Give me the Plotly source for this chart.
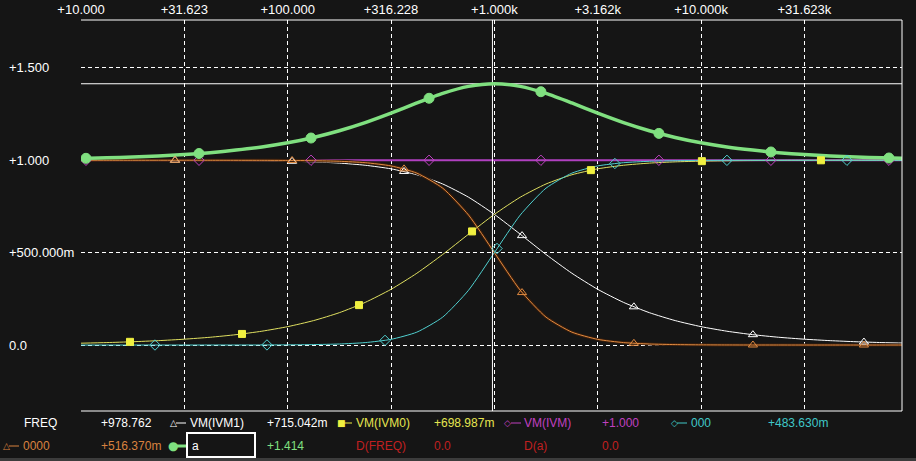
import math
import plotly.graph_objects as go

# ---------------- data ----------------
freq = [10, 13.34, 17.78, 23.71, 31.62, 42.17, 56.23, 74.99, 100, 133.4, 177.8, 237.1,
        316.2, 421.7, 562.3, 749.9, 1000, 1334, 1778, 2371, 3162, 4217, 5623, 7499,
        10000, 13335, 17783, 23714, 31623, 42170, 56234, 74989, 100000]

vm_ivm1 = [1.000, 1.000, 0.9998, 0.9997, 0.9995, 0.9991, 0.9984, 0.9972, 0.9950, 0.9913,
           0.9846, 0.9730, 0.9535, 0.9214, 0.8716, 0.8000, 0.7071, 0.5999, 0.4901, 0.3886,
           0.3015, 0.2307, 0.1751, 0.1322, 0.0995, 0.0748, 0.0561, 0.0421, 0.0316, 0.0237,
           0.0178, 0.0133, 0.0100]
vm_ivm0 = [0.0100, 0.0133, 0.0178, 0.0237, 0.0316, 0.0421, 0.0561, 0.0748, 0.0995, 0.1322,
           0.1751, 0.2307, 0.3015, 0.3886, 0.4901, 0.5999, 0.7071, 0.8000, 0.8716, 0.9214,
           0.9535, 0.9730, 0.9846, 0.9913, 0.9950, 0.9972, 0.9984, 0.9991, 0.9995, 0.9997,
           0.9998, 1.000, 1.000]
vm_ivm = [1.0] * len(freq)
s_0000 = [1.000, 1.000, 1.000, 1.000, 1.000, 0.9999, 0.9998, 0.9996, 0.9990, 0.9976,
          0.9944, 0.9868, 0.9693, 0.9302, 0.8490, 0.7034, 0.5000, 0.2966, 0.1510, 0.0698,
          0.0307, 0.0132, 0.0056, 0.0024, 0.0010, 0.0004, 0.0002, 0.0001, 0.0, 0.0,
          0.0, 0.0, 0.0]
s_000 = [0.0, 0.0, 0.0, 0.0, 0.0, 0.0001, 0.0002, 0.0004, 0.0010, 0.0024,
         0.0056, 0.0132, 0.0307, 0.0698, 0.1510, 0.2966, 0.5000, 0.7034, 0.8490, 0.9302,
         0.9693, 0.9868, 0.9944, 0.9976, 0.9990, 0.9996, 0.9998, 0.9999, 1.000, 1.000,
         1.000, 1.000, 1.000]
s_a = [1.010, 1.013, 1.018, 1.023, 1.031, 1.041, 1.055, 1.072, 1.0945, 1.1235,
       1.1597, 1.2037, 1.2550, 1.3100, 1.3617, 1.3999, 1.4142, 1.3999, 1.3617, 1.3100,
       1.2550, 1.2037, 1.1597, 1.1235, 1.0945, 1.072, 1.055, 1.041, 1.031, 1.023,
       1.018, 1.013, 1.010]

# marker samples
mk_a_f = [10.57, 37.24, 129.7, 483.1, 1679, 6252, 21780, 81100]
mk_a_v = [1.0105, 1.0365, 1.1203, 1.3354, 1.3709, 1.1454, 1.0448, 1.0123]
mk_ivm_f = mk_a_f
mk_ivm_v = [1.0] * len(mk_ivm_f)
mk_tri_f = [28.5, 105.0, 365.6, 1361, 4732, 17820, 61380]
mk_ivm1_v = [0.9996, 0.9945, 0.9392, 0.5920, 0.2068, 0.0560, 0.0163]
mk_0000_v = [1.000, 0.9988, 0.9534, 0.2838, 0.0094, 0.0002, 0.0]
mk_ivm0_f = [17.26, 60.12, 221.3, 779.8, 2931, 10090, 38020]
mk_ivm0_v = [0.0173, 0.0600, 0.2161, 0.6149, 0.9465, 0.9951, 0.9997]
mk_000_f = [22.8, 79.4, 295.8, 1030, 3828, 13340, 50800]
mk_000_v = [0.0, 0.0005, 0.0252, 0.5225, 0.9825, 0.9996, 1.000]

x_ticks = [10, 31.623, 100, 316.228, 1000, 3162.28, 10000, 31623]
x_tick_labels = ["+10.000", "+31.623", "+100.000", "+316.228", "+1.000k", "+3.162k",
                 "+10.000k", "+31.623k"]
y_ticks = [0.0, 0.5, 1.0, 1.5]
y_tick_labels = ["0.0", "+500.000m", "+1.000", "+1.500"]

cursor_freq = 978.762
cursor_a = 1.414
x_range = [10, 93800]
y_range = [-0.357, 1.759]

# legend readouts: (text, x_px, y_px, colour)
WHITE, YEL, MAG, CYN, ORG, GRN, RED = ("#ffffff", "#e6e650", "#c040c0", "#40c8c8",
                                       "#d9823f", "#80e080", "#c02020")
legend_texts = [
    ("FREQ", 22, 423, WHITE), ("+978.762", 99, 423, WHITE),
    ("VM(IVM1)", 188, 423, WHITE), ("+715.042m", 265, 423, WHITE),
    ("VM(IVM0)", 354, 423, YEL), ("+698.987m", 432, 423, YEL),
    ("VM(IVM)", 522, 423, MAG), ("+1.000", 600, 423, MAG),
    ("000", 689, 423, CYN), ("+483.630m", 766, 423, CYN),
    ("0000", 21, 446, ORG), ("+516.370m", 99, 446, ORG),
    ("a", 190, 446, WHITE), ("+1.414", 265, 446, GRN),
    ("D(FREQ)", 354, 446, RED), ("0.0", 432, 446, RED),
    ("D(a)", 522, 446, RED), ("0.0", 600, 446, RED),
]
# icon: (symbol, symbol centre x, line x0, line x1, y, colour, symbol size, line width)
legend_icons = [("△", 173, 176, 186, 423, WHITE, 9, 1),
                ("■", 341, 344, 352, 423, "#f0f040", 9, 1),
                ("◇", 508, 511, 521, 423, MAG, 9, 1),
                ("◇", 674, 677, 687, 423, CYN, 9, 1),
                ("△", 6, 9, 19, 446, ORG, 9, 1),
                ("●", 173, 176, 187, 446, GRN, 12, 3)]

# ---------------- figure ----------------
W, H = 916, 461
L, R, T, B = 81, 14, 20, 50
PW, PH = W - L - R, H - T - B


def px(x, y):
    return (x - L) / PW, (H - B - y) / PH


BG = "#151515"
FONT = "Liberation Sans, Arial"
fig = go.Figure()


def add_line(x, y, color, width):
    fig.add_trace(go.Scatter(x=x, y=y, mode="lines", hoverinfo="skip", showlegend=False,
                             line=dict(color=color, width=width, shape="spline", smoothing=0.6)))


def add_markers(x, y, color, symbol, size, lw=1):
    fig.add_trace(go.Scatter(x=x, y=y, mode="markers", hoverinfo="skip", showlegend=False,
                             marker=dict(color=color, symbol=symbol, size=size,
                                         line=dict(color=color, width=lw))))


add_line(freq, vm_ivm, "#b040c0", 2)
add_line(freq, vm_ivm1, "#ffffff", 1)
add_line(freq, s_0000, "#3a1e0c", 3)
add_line(freq, s_0000, "#e08a40", 1)
add_line(freq, vm_ivm0, "#e0e060", 1)
add_line(freq, s_000, "#50d0d0", 1)

# cursors
fig.add_trace(go.Scatter(x=[cursor_freq, cursor_freq], y=[y_range[0] - 1, y_range[1] + 1],
                         mode="lines", line=dict(color="#ffffff", width=1),
                         hoverinfo="skip", showlegend=False))
fig.add_trace(go.Scatter(x=[1, 1e6], y=[cursor_a, cursor_a],
                         mode="lines", line=dict(color="#ffffff", width=1),
                         hoverinfo="skip", showlegend=False))

add_line(freq, s_a, GRN, 3.5)

add_markers(mk_ivm_f, mk_ivm_v, "#c040c0", "diamond-open", 8)
add_markers(mk_tri_f, mk_ivm1_v, "#ffffff", "triangle-up-open", 8)
add_markers(mk_tri_f, mk_0000_v, "#e08a40", "triangle-up-open", 8)
add_markers(mk_ivm0_f, mk_ivm0_v, "#f0f040", "square", 7)
add_markers(mk_000_f, mk_000_v, "#50d0d0", "diamond-open", 8)
add_markers(mk_a_f, mk_a_v, GRN, "circle", 10)

annotations = []
shapes = []
for txt, x, y, c in legend_texts:
    ax, ay = px(x, y)
    annotations.append(dict(text=txt, x=ax, y=ay, xref="paper", yref="paper",
                            xanchor="left", yanchor="middle", showarrow=False,
                            font=dict(color=c, size=12, family=FONT)))
for sym, sx, lx0, lx1, y, c, fs, lw in legend_icons:
    ax, ay = px(sx, y)
    annotations.append(dict(text=sym, x=ax, y=ay, xref="paper", yref="paper",
                            xanchor="center", yanchor="middle", showarrow=False,
                            font=dict(color=c, size=fs, family="DejaVu Sans")))
    a0, b0 = px(lx0, y)
    a1, _ = px(lx1, y)
    shapes.append(dict(type="line", xref="paper", yref="paper", x0=a0, y0=b0, x1=a1, y1=b0,
                       line=dict(color=c, width=lw)))
for v, t in zip(y_ticks, y_tick_labels):
    annotations.append(dict(text=t, x=px(7, 0)[0], y=v, xref="paper", yref="y",
                            xanchor="left", yanchor="middle", showarrow=False,
                            font=dict(color="#ffffff", size=13, family=FONT)))

# plot frame (top, right, bottom solid)
for (x0, y0, x1, y1) in [(0, 1, 1, 1), (1, 0, 1, 1), (0, 0, 1, 0)]:
    shapes.append(dict(type="line", xref="paper", yref="paper", x0=x0, y0=y0, x1=x1, y1=y1,
                       line=dict(color="#ffffff", width=1)))
# box around "a"
bx0, by0 = px(187, 433)
bx1, by1 = px(255, 457)
shapes.append(dict(type="rect", xref="paper", yref="paper", x0=bx0, y0=by0, x1=bx1, y1=by1,
                   line=dict(color="#ffffff", width=2)))
# bottom gray strip
gx0, gy0 = px(0, 461)
gx1, gy1 = px(916, 458)
shapes.append(dict(type="rect", xref="paper", yref="paper", x0=gx0, y0=gy0, x1=gx1, y1=gy1,
                   line=dict(width=0), fillcolor="#3c3c3c", layer="below"))

fig.update_layout(
    width=W, height=H, margin=dict(l=L, r=R, t=T, b=B, autoexpand=False),
    paper_bgcolor=BG, plot_bgcolor=BG, showlegend=False,
    annotations=annotations, shapes=shapes,
    xaxis=dict(type="log", range=[math.log10(x_range[0]), math.log10(x_range[1])],
               side="top", tickvals=x_ticks, ticktext=x_tick_labels, ticks="",
               ticklabelstandoff=2,
               tickfont=dict(color="#ffffff", size=13, family=FONT),
               showgrid=True, gridcolor="#ffffff", gridwidth=1, griddash="4px,3px",
               showline=False, zeroline=False),
    yaxis=dict(range=y_range, tickvals=y_ticks, showticklabels=False, ticks="",
               showgrid=True, gridcolor="#ffffff", gridwidth=1, griddash="4px,3px",
               showline=False, zeroline=False),
)

fig.write_html("out.html",
               config={"displayModeBar": False, "staticPlot": True},
               post_script="document.body.style.margin='0px';"
                           "document.body.style.background='#151515';"
                           "document.body.style.overflow='hidden';")
